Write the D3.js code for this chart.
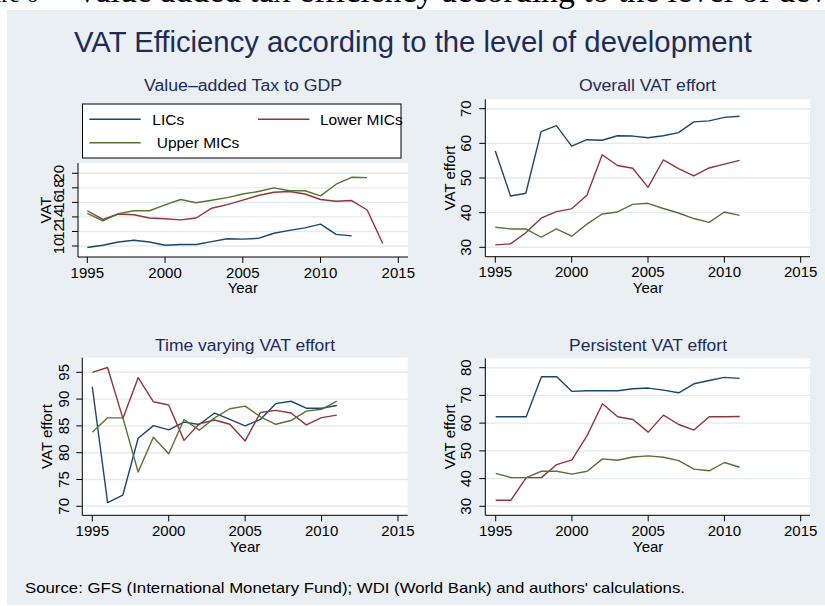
<!DOCTYPE html>
<html>
<head>
<meta charset="utf-8">
<script src="https://cdn.jsdelivr.net/npm/d3@7"></script>
<style>
  html, body { margin: 0; padding: 0; background: #ffffff; }
  svg { display: block; }
</style>
</head>
<body>
<div id="chart"></div>
<script>
// values
const years = [1995, 1996, 1997, 1998, 1999, 2000, 2001, 2002, 2003, 2004,
               2005, 2006, 2007, 2008, 2009, 2010, 2011, 2012, 2013, 2014];
const groups = ["LICs", "Lower MICs", "Upper MICs"];
const xTicks = [1995, 2000, 2005, 2010, 2015];

const vatGdpLICs = [9.8, 10.1, 10.55, 10.8, 10.55, 10.1, 10.2, 10.2, 10.6, 11.0, 10.95, 11.05, 11.75, 12.15, 12.5, 13.0, 11.6, 11.4];
const vatGdpLower = [14.85, 13.65, 14.4, 14.3, 13.85, 13.75, 13.6, 13.85, 15.2, 15.7, 16.3, 16.95, 17.4, 17.5, 17.15, 16.4, 16.15, 16.25, 14.95, 10.35];
const vatGdpUpper = [14.5, 13.45, 14.45, 14.85, 14.85, 15.65, 16.4, 15.95, 16.3, 16.65, 17.15, 17.5, 18.0, 17.6, 17.6, 16.9, 18.5, 19.45, 19.4];
const vatGdpTicks = [10, 12, 14, 16, 18, 20];

const overallLICs = [57.8, 44.8, 45.6, 63.4, 65.1, 59.2, 61.05, 60.9, 62.2, 62.1, 61.6, 62.2, 63.1, 66.2, 66.5, 67.5, 67.8];
const overallLower = [30.7, 31.0, 34.2, 38.4, 40.3, 41.1, 45.0, 56.7, 53.6, 52.8, 47.3, 55.2, 52.7, 50.6, 52.9, 54.0, 55.1];
const overallUpper = [35.8, 35.3, 35.3, 32.9, 35.3, 33.2, 36.7, 39.6, 40.2, 42.4, 42.7, 41.2, 39.9, 38.3, 37.2, 40.2, 39.2];
const overallTicks = [30, 40, 50, 60, 70];

const timeLICs = [92.3, 70.7, 72.1, 82.7, 85.05, 84.25, 85.7, 85.25, 87.4, 86.2, 85.0, 86.2, 89.15, 89.6, 88.3, 88.3, 88.8];
const timeLower = [95.0, 95.9, 86.4, 94.0, 89.5, 88.9, 82.3, 85.4, 86.1, 85.3, 82.2, 87.5, 87.9, 87.4, 85.2, 86.55, 87.0];
const timeUpper = [83.8, 86.5, 86.5, 76.4, 82.9, 79.8, 86.2, 84.2, 86.5, 88.2, 88.7, 86.7, 85.3, 86.0, 87.75, 88.1, 89.6];
const timeTicks = [70, 75, 80, 85, 90, 95];

const persLICs = [62.3, 62.3, 62.3, 76.75, 76.75, 71.45, 71.7, 71.7, 71.7, 72.4, 72.65, 71.9, 70.95, 74.2, 75.4, 76.5, 76.15];
const persLower = [32.2, 32.2, 40.35, 40.35, 45.05, 46.75, 55.6, 67.0, 62.3, 61.3, 56.75, 62.9, 59.5, 57.5, 62.3, 62.3, 62.4];
const persUpper = [41.9, 40.35, 40.35, 42.65, 42.65, 41.6, 42.65, 47.1, 46.6, 47.8, 48.2, 47.7, 46.5, 43.4, 42.8, 45.8, 44.1];
const persTicks = [30, 40, 50, 60, 70, 80];

function renderVatFigure() {
    const width = 825;
    const height = 606;
    const font = "'Liberation Sans', Arial, sans-serif";
    const navy = "#1e2b58";
    const colors = ["#1a476f", "#90353b", "#55752f"];

    const svg = d3.select("#chart").append("svg")
        .attr("width", width)
        .attr("height", height)
        .style("font-family", font);

    // cut-off caption line of the surrounding document
    const cap = svg.append("g").style("font-family", "'Liberation Serif', 'Times New Roman', serif");
    cap.append("text").attr("x", 38).attr("y", 1.5).attr("text-anchor", "end")
        .attr("font-size", 24).text("Figure 6");
    const capText = cap.append("text").attr("x", 75).attr("y", 1.5)
        .attr("font-size", 24).text("Value added tax efficiency according to the level of dev");
    const w0 = capText.node().getComputedTextLength();
    capText.attr("font-size", 24 * 752 / w0)
        .text("Value added tax efficiency according to the level of development");

    // graph region
    svg.append("rect")
        .attr("x", 7).attr("y", 10).attr("width", width - 7).attr("height", height - 11)
        .attr("fill", "#e9eff2");

    svg.append("text")
        .attr("x", 413).attr("y", 51.5)
        .attr("text-anchor", "middle")
        .attr("font-size", 30)
        .attr("textLength", 678)
        .attr("lengthAdjust", "spacingAndGlyphs")
        .attr("fill", navy)
        .text("VAT Efficiency according to the level of development");

    const panels = [
        { title: "Value\u2013added Tax to GDP", ylab: "VAT", series: [vatGdpLICs, vatGdpLower, vatGdpUpper],
          ticks: vatGdpTicks, rect: [78, 163, 408, 257], xr: [87.3, 398.3], yd: [10, 20], yr: [246, 173.3],
          titleY: 90.7, titleX: 243, titleW: 198, ylabX: 51, tickLabX: 63.5 },
        { title: "Overall VAT effort", ylab: "VAT effort", series: [overallLICs, overallLower, overallUpper],
          ticks: overallTicks, rect: [485.3, 99.3, 810, 256.7], xr: [495.3, 800.7], yd: [30, 70], yr: [247.3, 108.7],
          titleY: 90.7, titleX: 647.5, titleW: 137, ylabX: 455, tickLabX: 471 },
        { title: "Time varying VAT effort", ylab: "VAT effort", series: [timeLICs, timeLower, timeUpper],
          ticks: timeTicks, rect: [82.3, 357.7, 407.7, 515.3], xr: [92.3, 398], yd: [70, 95], yr: [506.3, 372.3],
          titleY: 350.7, titleX: 245, titleW: 180, ylabX: 52.3, tickLabX: 69.3 },
        { title: "Persistent VAT effort", ylab: "VAT effort", series: [persLICs, persLower, persUpper],
          ticks: persTicks, rect: [485.3, 358.3, 810, 515.3], xr: [495.7, 800.7], yd: [30, 80], yr: [506.3, 367.7],
          titleY: 350.7, titleX: 648, titleW: 158, ylabX: 455, tickLabX: 470.7 }
    ];

    panels.forEach((p) => {
        const [x0, y0, x1, y1] = p.rect;
        const x = d3.scaleLinear().domain([1995, 2015]).range(p.xr);
        const y = d3.scaleLinear().domain(p.yd).range(p.yr);
        const g = svg.append("g");

        g.append("rect")
            .attr("x", x0).attr("y", y0).attr("width", x1 - x0).attr("height", y1 - y0)
            .attr("fill", "#ffffff");

        g.append("g").selectAll("line").data(p.ticks).join("line")
            .attr("x1", x0).attr("x2", x1)
            .attr("y1", (d) => y(d)).attr("y2", (d) => y(d))
            .attr("stroke", "#e3ebee").attr("stroke-width", 1.4);

        const line = d3.line().x((d, i) => x(years[i])).y((d) => y(d));
        g.append("g").selectAll("path").data(p.series).join("path")
            .attr("d", (d) => line(d))
            .attr("fill", "none")
            .attr("stroke", (d, i) => colors[i])
            .attr("stroke-width", 1.4)
            .attr("stroke-linejoin", "round");

        // y axis
        g.append("line").attr("x1", x0).attr("x2", x0).attr("y1", y0).attr("y2", y1)
            .attr("stroke", "#000").attr("stroke-width", 1);
        g.append("g").selectAll("line").data(p.ticks).join("line")
            .attr("x1", x0 - 6).attr("x2", x0)
            .attr("y1", (d) => y(d)).attr("y2", (d) => y(d))
            .attr("stroke", "#000").attr("stroke-width", 1);
        g.append("g").selectAll("text").data(p.ticks).join("text")
            .attr("transform", (d) => `translate(${p.tickLabX},${y(d)}) rotate(-90)`)
            .attr("text-anchor", "middle")
            .attr("font-size", 15)
            .attr("fill", "#000")
            .text((d) => d);
        g.append("text")
            .attr("transform", `translate(${p.ylabX},${(y0 + y1) / 2}) rotate(-90)`)
            .attr("text-anchor", "middle")
            .attr("font-size", 15)
            .attr("fill", "#000")
            .text(p.ylab);

        // x axis
        g.append("line").attr("x1", x0).attr("x2", x1).attr("y1", y1).attr("y2", y1)
            .attr("stroke", "#000").attr("stroke-width", 1);
        g.append("g").selectAll("line").data(xTicks).join("line")
            .attr("x1", (d) => x(d)).attr("x2", (d) => x(d))
            .attr("y1", y1).attr("y2", y1 + 6)
            .attr("stroke", "#000").attr("stroke-width", 1);
        g.append("g").selectAll("text").data(xTicks).join("text")
            .attr("x", (d) => x(d)).attr("y", y1 + 20.6)
            .attr("text-anchor", "middle")
            .attr("font-size", 15)
            .attr("fill", "#000")
            .text((d) => d);
        g.append("text")
            .attr("x", (p.xr[0] + p.xr[1]) / 2).attr("y", y1 + 36.3)
            .attr("text-anchor", "middle")
            .attr("font-size", 15)
            .attr("fill", "#000")
            .text("Year");

        g.append("text")
            .attr("x", p.titleX).attr("y", p.titleY)
            .attr("text-anchor", "middle")
            .attr("font-size", 16)
            .attr("textLength", p.titleW)
            .attr("lengthAdjust", "spacingAndGlyphs")
            .attr("fill", navy)
            .text(p.title);
    });

    // legend inside the first panel area
    const legend = svg.append("g");
    legend.append("rect")
        .attr("x", 82.5).attr("y", 104).attr("width", 318.5).attr("height", 54)
        .attr("fill", "#ffffff").attr("stroke", "#000").attr("stroke-width", 1);
    const legendPos = [
        { lx: 89.3, ly: 119.3, tx: 152.3, label: groups[0] },
        { lx: 258, ly: 119.3, tx: 320, label: groups[1] },
        { lx: 89.3, ly: 142.7, tx: 156.7, label: groups[2] }
    ];
    legendPos.forEach((d, i) => {
        legend.append("line")
            .attr("x1", d.lx).attr("x2", d.lx + 51.4)
            .attr("y1", d.ly).attr("y2", d.ly)
            .attr("stroke", colors[i]).attr("stroke-width", 1.4);
        legend.append("text")
            .attr("x", d.tx).attr("y", d.ly + 5.3)
            .attr("font-size", 15.5)
            .attr("fill", "#000")
            .text(d.label);
    });

    svg.append("text")
        .attr("x", 25).attr("y", 593)
        .attr("font-size", 15)
        .attr("textLength", 660)
        .attr("lengthAdjust", "spacingAndGlyphs")
        .attr("fill", "#000")
        .text("Source: GFS (International Monetary Fund); WDI (World Bank) and authors' calculations.");
}

renderVatFigure();
</script>
</body>
</html>
